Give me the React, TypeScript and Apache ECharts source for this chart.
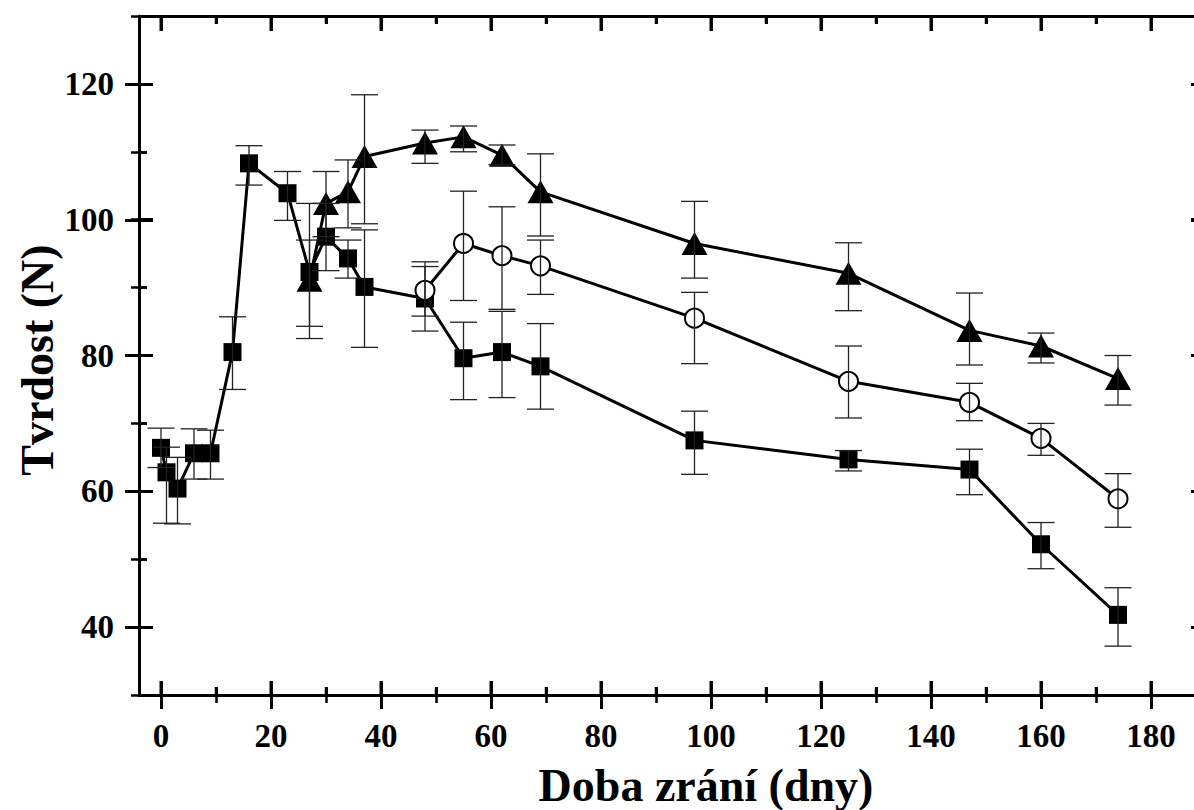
import React, { useEffect, useRef } from "react";
import * as echarts from "echarts";

// ---- Data ----
const xTicks = [0, 20, 40, 60, 80, 100, 120, 140, 160, 180];
const xMinorTicks = [10, 30, 50, 70, 90, 110, 130, 150, 170];
const yTicks = [40, 60, 80, 100, 120];
const yMinorTicks = [50, 70, 90, 110];

const sqDays = [0, 1, 3, 6, 9, 13, 16, 23, 27, 30, 34, 37, 48, 55, 62, 69, 97, 125, 147, 160, 174];
const sqVal = [66.4, 62.8, 60.4, 65.6, 65.6, 80.5, 108.3, 103.9, 92.3, 97.5, 94.3, 90.1, 88.4, 79.6, 80.5, 78.4, 67.5, 64.7, 63.2, 52.2, 41.8];
const sqLo = [63.5, 55.3, 55.2, 61.8, 61.8, 75.0, 105.1, 99.9, 84.3, 92.5, 91.4, 81.2, 83.6, 73.5, 73.8, 72.1, 62.5, 63.0, 59.5, 48.6, 37.2];
const sqHi = [69.3, 66.5, 65.0, 69.2, 69.0, 85.7, 110.9, 107.1, 102.4, 102.4, 97.0, 98.5, 93.1, 84.9, 86.5, 84.7, 71.8, 66.0, 66.2, 55.4, 45.8];

const triDays = [27, 30, 34, 37, 48, 55, 62, 69, 97, 125, 147, 160, 174];
const triVal = [91.1, 102.4, 104.1, 109.3, 111.3, 112.2, 109.5, 104.1, 96.5, 92.1, 83.7, 81.4, 76.6];
const triLo = [82.5, 97.5, 98.8, 99.4, 108.3, 110.0, 108.1, 97.6, 91.4, 86.6, 78.6, 78.9, 72.7];
const triHi = [97.0, 107.1, 108.8, 118.4, 113.2, 113.8, 111.0, 109.7, 102.7, 96.6, 89.2, 83.3, 80.0];

const cirDays = [48, 55, 62, 69, 97, 125, 147, 160, 174];
const cirVal = [89.6, 96.5, 94.7, 93.2, 85.5, 76.2, 73.1, 67.8, 58.9];
const cirLo = [85.8, 88.1, 86.8, 89.0, 78.8, 70.8, 70.4, 65.3, 54.7];
const cirHi = [93.8, 104.2, 101.9, 97.0, 89.3, 81.4, 75.9, 70.0, 62.6];

const xTitle = "Doba zrání (dny)";
const yTitle = "Tvrdost (N)";

const FONT = '"Liberation Serif", "Times New Roman", serif';
const CHART_W = 1210;
const CHART_H = 810;
const Y_MIN = 30;
const Y_MAX = 130;

export default function App() {
  const ref = useRef<HTMLDivElement>(null);

  useEffect(() => {
    if (!ref.current) return;
    const chart = echarts.init(ref.current, undefined, { renderer: "svg" });

    const pts = (xs: number[], ys: number[]) => xs.map((x, i) => [x, ys[i]]);
    const errs = (xs: number[], lo: number[], hi: number[]) => xs.map((x, i) => [x, lo[i], hi[i]]);

    const hidden = { show: false };
    const labelStyle = { color: "#000", fontSize: 33, fontWeight: "bold", fontFamily: FONT };

    const frameX = (position: string, showLine: boolean, values: number[], len: number, w: number) => ({
      type: "value", gridIndex: 0, position, min: -4, max: 190, z: 10,
      axisLine: { show: showLine, onZero: false, lineStyle: { color: "#000", width: 3 } },
      axisTick: { show: true, inside: true, length: len, customValues: values, lineStyle: { color: "#000", width: w } },
      axisLabel: hidden, splitLine: hidden,
    });
    const frameY = (position: string, showLine: boolean, values: number[], len: number, w: number) => ({
      type: "value", gridIndex: 0, position, min: Y_MIN, max: Y_MAX, z: 10,
      axisLine: { show: showLine, onZero: false, lineStyle: { color: "#000", width: 3 } },
      axisTick: { show: true, inside: true, length: len, customValues: values, lineStyle: { color: "#000", width: w } },
      axisLabel: hidden, splitLine: hidden,
    });

    const majorX = (position: string, offset: number, len: number, labels: boolean) => ({
      type: "value", gridIndex: 1, position, offset, min: 0, max: 180, interval: 20, z: 10,
      axisLine: { show: false, onZero: false }, splitLine: hidden,
      axisTick: { show: true, length: len, lineStyle: { color: "#000", width: 3 } },
      axisLabel: labels ? { show: true, margin: 38, ...labelStyle } : hidden,
    });
    const minorX = (position: string, offset: number, len: number) => ({
      type: "value", gridIndex: 1, position, offset, min: 0, max: 180, interval: 10, z: 10,
      axisLine: { show: false, onZero: false }, splitLine: hidden,
      axisTick: { show: true, length: len, lineStyle: { color: "#000", width: 2.5 } },
      axisLabel: hidden,
    });
    const majorY = (position: string, offset: number, len: number, labels: boolean) => ({
      type: "value", gridIndex: 2, position, offset, min: 40, max: 120, interval: 20, z: 10,
      axisLine: { show: false, onZero: false }, splitLine: hidden,
      axisTick: { show: true, length: len, lineStyle: { color: "#000", width: 3 } },
      axisLabel: labels ? { show: true, margin: 39, ...labelStyle } : hidden,
    });
    const minorY = (position: string, offset: number, len: number) => ({
      type: "value", gridIndex: 3, position, offset, min: 30, max: 130, interval: 10, z: 10,
      axisLine: { show: false, onZero: false }, splitLine: hidden,
      axisTick: { show: true, length: len, lineStyle: { color: "#000", width: 2.5 } },
      axisLabel: hidden,
    });

    // Inward x ticks on the top and bottom frame, placed through the data grid's x scale.
    const tickRender = (params: any, api: any) => {
      const v = api.value(0);
      const major = api.value(1) === 1;
      const top = api.coord([v, Y_MAX]);
      const bot = api.coord([v, Y_MIN]);
      const st = { stroke: "#000", lineWidth: major ? 3 : 2.5, fill: null };
      const lenTop = major ? 15 : 8;
      const lenBot = major ? 14 : 8;
      return {
        type: "group",
        children: [
          { type: "line", shape: { x1: top[0], y1: top[1], x2: top[0], y2: top[1] + lenTop }, style: st },
          { type: "line", shape: { x1: bot[0], y1: bot[1] - lenBot, x2: bot[0], y2: bot[1] }, style: st },
        ],
      };
    };
    const tickRows = [...xTicks.map((v) => [v, 1]), ...xMinorTicks.map((v) => [v, 0])];

    const errRender = (params: any, api: any) => {
      const x = api.value(0);
      const lo = api.coord([x, api.value(1)]);
      const hi = api.coord([x, api.value(2)]);
      const hw = 13.5;
      const st = { stroke: "#222", lineWidth: 1.3, fill: null };
      return {
        type: "group",
        children: [
          { type: "line", shape: { x1: lo[0], y1: lo[1], x2: hi[0], y2: hi[1] }, style: st },
          { type: "line", shape: { x1: lo[0] - hw, y1: lo[1], x2: lo[0] + hw, y2: lo[1] }, style: st },
          { type: "line", shape: { x1: hi[0] - hw, y1: hi[1], x2: hi[0] + hw, y2: hi[1] }, style: st },
        ],
      };
    };

    const errSeries = (data: number[][]) => ({
      type: "custom",
      xAxisIndex: 0,
      yAxisIndex: 0,
      z: 4,
      silent: true,
      renderItem: errRender,
      encode: { x: 0, y: [1, 2] },
      data,
    });

    const option: any = {
      animation: false,
      grid: [
        { left: 139, right: CHART_W - 1206, top: 16, bottom: 115 },
        { left: 161, right: CHART_W - 1151, top: 16, bottom: 115 },
        { left: 139, right: CHART_W - 1206, top: 84, bottom: 183 },
        { left: 139, right: CHART_W - 1206, top: 16, bottom: 115 },
      ],
      xAxis: [
        frameX("bottom", true, xTicks, 14, 3),
        frameX("top", true, xTicks, 15, 3),
        majorX("bottom", -14, 28, true),
        minorX("bottom", -8, 16),
        majorX("top", -15, 15, false),
        minorX("top", -8, 8),
        { type: "value", gridIndex: 2, min: 0, max: 180, show: false, axisLine: { onZero: false } },
        { type: "value", gridIndex: 3, min: 0, max: 180, show: false, axisLine: { onZero: false } },
        frameX("bottom", false, xMinorTicks, 8, 2.5),
        frameX("top", false, xMinorTicks, 8, 2.5),
      ],
      yAxis: [
        frameY("left", true, yTicks, 14, 3),
        frameY("right", true, yTicks, 15, 3),
        { type: "value", gridIndex: 1, min: 30, max: 130, show: false, axisLine: { onZero: false } },
        majorY("left", -14, 28, true),
        majorY("right", -15, 15, false),
        minorY("left", -8, 16),
        minorY("right", -8, 8),
        frameY("left", false, yMinorTicks, 8, 2.5),
      ],
      graphic: [
        {
          type: "text",
          x: 706,
          y: 785,
          style: { text: xTitle, font: `bold 46px ${FONT}`, fill: "#000", textAlign: "center", textVerticalAlign: "middle" },
        },
        {
          type: "text",
          x: 37,
          y: 360,
          rotation: Math.PI / 2,
          style: { text: yTitle, font: `bold 46px ${FONT}`, fill: "#000", textAlign: "center", textVerticalAlign: "middle" },
        },
      ],
      series: [
        {
          type: "custom",
          xAxisIndex: 0,
          yAxisIndex: 0,
          z: 1,
          silent: true,
          renderItem: tickRender,
          encode: { x: 0 },
          data: tickRows,
        },
        {
          type: "line",
          xAxisIndex: 0,
          yAxisIndex: 0,
          data: pts(sqDays, sqVal),
          symbol: "rect",
          symbolSize: 18,
          lineStyle: { color: "#000", width: 3 },
          itemStyle: { color: "#000" },
          z: 2,
        },
        {
          type: "line",
          xAxisIndex: 0,
          yAxisIndex: 0,
          data: pts(triDays, triVal),
          symbol: "triangle",
          symbolSize: [26, 23],
          lineStyle: { color: "#000", width: 3 },
          itemStyle: { color: "#000" },
          z: 2,
        },
        {
          type: "line",
          xAxisIndex: 0,
          yAxisIndex: 0,
          data: pts(cirDays, cirVal),
          symbol: "circle",
          symbolSize: 19,
          lineStyle: { color: "#000", width: 3 },
          itemStyle: { color: "#fff", borderColor: "#000", borderWidth: 2 },
          z: 3,
        },
        errSeries(errs(sqDays, sqLo, sqHi)),
        errSeries(errs(triDays, triLo, triHi)),
        errSeries(errs(cirDays, cirLo, cirHi)),
      ],
    };

    chart.setOption(option);
    return () => chart.dispose();
  }, []);

  return (
    <div style={{ position: "absolute", left: 0, top: 0, width: 1194, height: 810, overflow: "hidden", background: "#fff" }}>
      <div ref={ref} style={{ width: CHART_W, height: CHART_H }} />
    </div>
  );
}
